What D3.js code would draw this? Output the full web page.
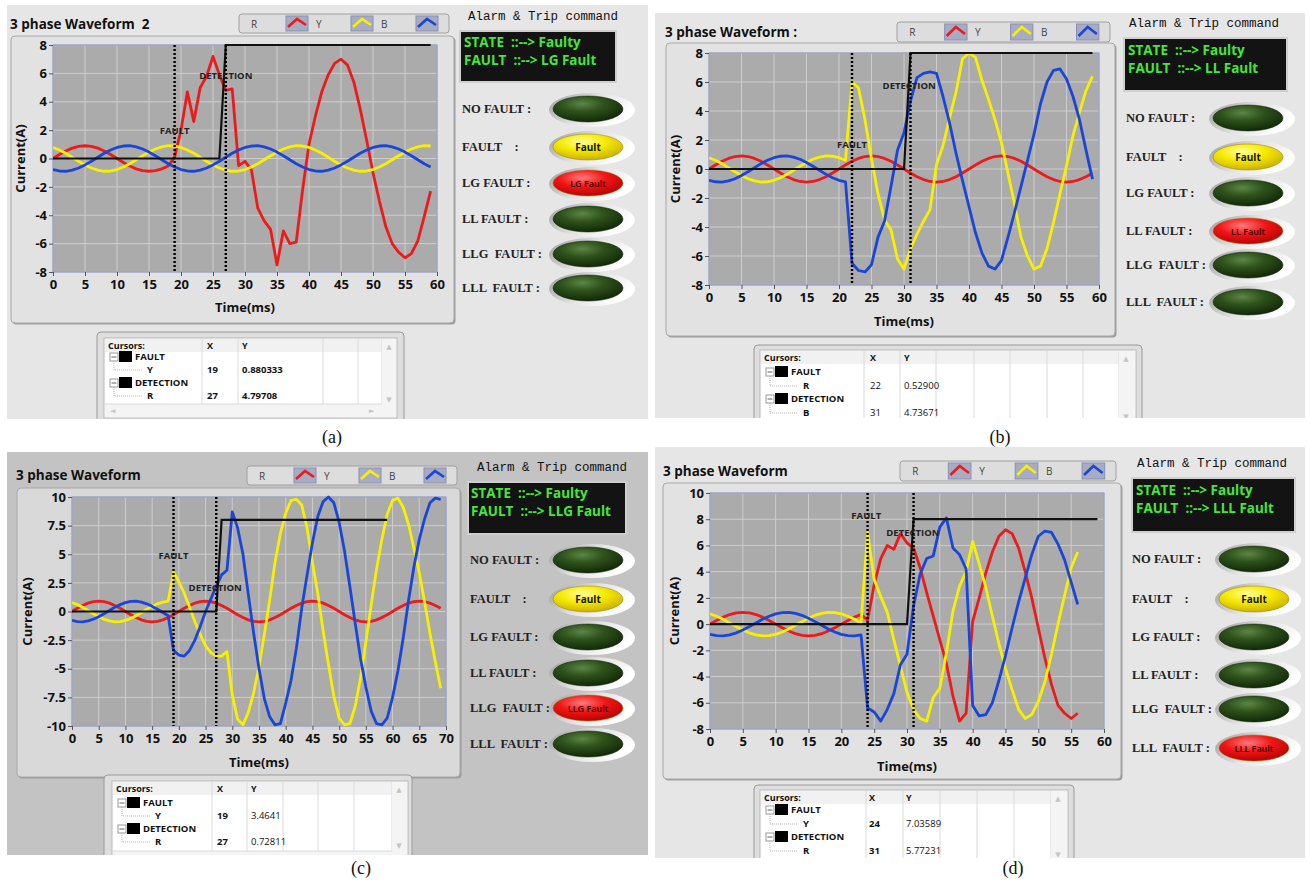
<!DOCTYPE html>
<html>
<head>
<meta charset="utf-8">
<title>3 phase waveform - fault detection</title>
<script src="https://cdn.jsdelivr.net/npm/d3@7/dist/d3.min.js"></script>
<style>
  body { margin: 0; background: #fff; }
  text { font-family: "Open Sans", "DejaVu Sans", sans-serif; }
</style>
</head>
<body>
<div id="figure"></div>
<script>
/* 3 phase waveform screenshots (a)-(d), one sample per ms */

const phaseNames = ["R", "Y", "B"];
const ledLabels = ["NO FAULT :", "FAULT    :", "LG FAULT :", "LL FAULT :", "LLG  FAULT :", "LLL  FAULT :"];

const xTicks60 = [0, 5, 10, 15, 20, 25, 30, 35, 40, 45, 50, 55, 60];
const xTicks70 = [0, 5, 10, 15, 20, 25, 30, 35, 40, 45, 50, 55, 60, 65, 70];
const yTicks8 = [-8, -6, -4, -2, 0, 2, 4, 6, 8];
const yTicks10 = [-10, -7.5, -5, -2.5, 0, 2.5, 5, 7.5, 10];
const yTicksD = [-8, -6, -4, -2, 0, 2, 4, 6, 8, 10];

// (a) LG fault
const redA = [0, 0.28, 0.53, 0.73, 0.86, 0.9, 0.86, 0.73, 0.53, 0.28, 0, -0.28, -0.53, -0.73, -0.86, -0.9, -0.86, -0.73, -0.53,
    0.1, 2.0, 4.7, 2.6, 5.0, 5.8, 7.2, 5.9, 4.8, 4.9, -0.5,
    -0.2, -0.8, -3.5, -4.4, -5.0, -7.5, -5.1, -6.0, -5.9, -2.2,
    1.0, 3.0, 4.7, 5.9, 6.7, 7.0, 6.6, 5.4, 3.5, 1.3,
    -1.0, -3.0, -4.8, -6.0, -6.6, -7.0, -6.7, -5.8, -4.1, -2.3];
const yellowA = [0.78, 0.6, 0.37, 0.09, -0.19, -0.45, -0.67, -0.82, -0.9, -0.88, -0.78, -0.6, -0.37, -0.09, 0.19, 0.45, 0.67, 0.82, 0.9, 0.88,
    0.78, 0.6, 0.37, 0.09, -0.19, -0.45, -0.67, -0.82, -0.9, -0.88, -0.78, -0.6, -0.37, -0.09, 0.19, 0.45, 0.67, 0.82, 0.9, 0.88,
    0.78, 0.6, 0.37, 0.09, -0.19, -0.45, -0.67, -0.82, -0.9, -0.88, -0.78, -0.6, -0.37, -0.09, 0.19, 0.45, 0.67, 0.82, 0.9, 0.88];
const blueA = [-0.78, -0.88, -0.9, -0.82, -0.67, -0.45, -0.19, 0.09, 0.37, 0.6, 0.78, 0.88, 0.9, 0.82, 0.67, 0.45, 0.19, -0.09, -0.37, -0.6,
    -0.78, -0.88, -0.9, -0.82, -0.67, -0.45, -0.19, 0.09, 0.37, 0.6, 0.78, 0.88, 0.9, 0.82, 0.67, 0.45, 0.19, -0.09, -0.37, -0.6,
    -0.78, -0.88, -0.9, -0.82, -0.67, -0.45, -0.19, 0.09, 0.37, 0.6, 0.78, 0.88, 0.9, 0.82, 0.67, 0.45, 0.19, -0.09, -0.37, -0.6];
const tripA = [0, 0, 0, 0, 0, 0, 0, 0, 0, 0, 0, 0, 0, 0, 0, 0, 0, 0, 0, 0, 0, 0, 0, 0, 0, 0, 0,
    8, 8, 8, 8, 8, 8, 8, 8, 8, 8, 8, 8, 8, 8, 8, 8, 8, 8, 8, 8, 8, 8, 8, 8, 8, 8, 8, 8, 8, 8, 8, 8, 8];
const cursorsA = [["FAULT", "Y", 19, "0.880333"], ["DETECTION", "R", 27, "4.79708"]];

// (b) LL fault
const redB = [0, 0.28, 0.53, 0.73, 0.86, 0.9, 0.86, 0.73, 0.53, 0.28, 0, -0.28, -0.53, -0.73, -0.86, -0.9, -0.86, -0.73, -0.53, -0.28,
    0, 0.28, 0.53, 0.73, 0.86, 0.9, 0.86, 0.73, 0.53, 0.28, 0, -0.28, -0.53, -0.73, -0.86, -0.9, -0.86, -0.73, -0.53, -0.28,
    0, 0.28, 0.53, 0.73, 0.86, 0.9, 0.86, 0.73, 0.53, 0.28, 0, -0.28, -0.53, -0.73, -0.86, -0.9, -0.86, -0.73, -0.53, -0.28];
const yellowB = [0.78, 0.6, 0.37, 0.09, -0.19, -0.45, -0.67, -0.82, -0.9, -0.88, -0.78, -0.6, -0.37, -0.09, 0.19, 0.45, 0.67, 0.82, 0.9, 0.88,
    0.78, 0.6,
    6.0, 5.6, 3.4, 0.7, -1.7, -3.5, -4.2, -6.2, -6.9, -5.5, -4.5, -3.6, -2.8, 0.3, 1.6, 3.5, 5.3, 7.6, 8.0,
    7.7, 6.1, 4.8, 3.4, 1.8, -0.3, -2.4, -4.7, -6.0, -6.9, -6.7, -5.5, -3.7, -1.7, 0.2, 2.3, 3.9, 5.4, 6.4];
const blueB = [-0.78, -0.88, -0.9, -0.82, -0.67, -0.45, -0.19, 0.09, 0.37, 0.6, 0.78, 0.88, 0.9, 0.82, 0.67, 0.45, 0.19, -0.09, -0.37, -0.6,
    -0.78, -0.88,
    -6.5, -7.0, -7.1, -6.6, -4.7, -3.6, -1.2, 1.3, 2.5, 4.7, 6.3, 6.6, 6.7, 6.6, 5.0, 3.2, 1.1, -0.8, -2.6,
    -4.4, -5.8, -6.7, -6.9, -6.3, -4.7, -3.0, -1.2, 0.6, 2.4, 4.5, 6.0, 6.8, 6.9, 6.2, 5.0, 3.4, 1.3, -0.7];
const tripB = [0, 0, 0, 0, 0, 0, 0, 0, 0, 0, 0, 0, 0, 0, 0, 0, 0, 0, 0, 0, 0, 0, 0, 0, 0, 0, 0, 0, 0, 0, 0,
    8, 8, 8, 8, 8, 8, 8, 8, 8, 8, 8, 8, 8, 8, 8, 8, 8, 8, 8, 8, 8, 8, 8, 8, 8, 8, 8, 8, 8];
const cursorsB = [["FAULT", "R", 22, "0.52900"], ["DETECTION", "B", 31, "4.73671"]];

// (c) LLG fault
const redC = [0, 0.28, 0.53, 0.73, 0.86, 0.9, 0.86, 0.73, 0.53, 0.28, 0, -0.28, -0.53, -0.73, -0.86, -0.9, -0.86, -0.73, -0.53, -0.28,
    0, 0.28, 0.53, 0.73, 0.86, 0.9, 0.86, 0.73, 0.53, 0.28, 0, -0.28, -0.53, -0.73, -0.86, -0.9, -0.86, -0.73, -0.53, -0.28,
    0, 0.28, 0.53, 0.73, 0.86, 0.9, 0.86, 0.73, 0.53, 0.28, 0, -0.28, -0.53, -0.73, -0.86, -0.9, -0.86, -0.73, -0.53, -0.28,
    0, 0.28, 0.53, 0.73, 0.86, 0.9, 0.86, 0.73, 0.53, 0.28];
const yellowC = [0.78, 0.6, 0.37, 0.09, -0.19, -0.45, -0.67, -0.82, -0.9, -0.88, -0.78, -0.6, -0.37, -0.09, 0.19, 0.45, 0.67, 0.82, 0.9,
    3.46, 2.6, 1.6, 0.4, -0.9, -2.0, -3.0, -3.6, -3.9, -3.9, -3.5,
    -7.3, -9.4, -9.9, -8.8, -7.1, -4.8, -2.0, 1.0, 4.3, 6.8,
    8.6, 9.7, 9.8, 9.3, 7.3, 4.3, 1.6, -1.7, -4.6, -7.4,
    -9.3, -9.9, -9.8, -8.3, -5.8, -2.7, 0.6, 3.7, 6.3, 8.5,
    9.7, 9.9, 9.1, 7.6, 5.5, 3.4, 0.8, -1.9, -4.4, -6.7];
const blueC = [-0.78, -0.88, -0.9, -0.82, -0.67, -0.45, -0.19, 0.09, 0.37, 0.6, 0.78, 0.88, 0.9, 0.82, 0.67, 0.45, 0.19, -0.09, -0.37,
    -3.4, -3.8, -3.9, -3.4, -2.5, -1.3, 0.0, 1.1, 2.2, 3.2, 3.6,
    8.7, 7.3, 5.0, 1.5, -1.9, -5.0, -7.6, -9.2, -9.9, -9.8,
    -8.0, -6.0, -3.2, 0.3, 3.2, 6.0, 8.3, 9.6, 10.0, 9.5,
    7.8, 5.3, 2.2, -1.0, -4.1, -6.6, -8.7, -9.8, -9.9, -9.3,
    -7.5, -5.2, -2.3, 1.0, 3.9, 6.3, 8.1, 9.5, 9.9, 9.8];
const tripC = [0, 0, 0, 0, 0, 0, 0, 0, 0, 0, 0, 0, 0, 0, 0, 0, 0, 0, 0, 0, 0, 0, 0, 0, 0, 0, 0, 0,
    8, 8, 8, 8, 8, 8, 8, 8, 8, 8, 8, 8, 8, 8, 8, 8, 8, 8, 8, 8, 8, 8, 8, 8, 8, 8, 8, 8, 8, 8, 8, 8];
const cursorsC = [["FAULT", "Y", 19, "3.4641"], ["DETECTION", "R", 27, "0.72811"]];

// (d) LLL fault
const redD = [0, 0.28, 0.53, 0.73, 0.86, 0.9, 0.86, 0.73, 0.53, 0.28, 0, -0.28, -0.53, -0.73, -0.86, -0.9, -0.86, -0.73, -0.53, -0.28,
    0, 0.28, 0.53, 0.73,
    0.3, 3.0, 5.0, 6.0, 5.7, 6.9, 6.2, 5.8, 4.3, 2.4, 0.6, -1.2, -3.0, -5.5, -7.4, -6.8,
    0.2, 2.0, 3.9, 5.5, 6.7, 7.2, 6.9, 5.8, 4.0, 2.0, -0.3, -2.6, -4.6, -6.2, -6.8, -7.2, -6.8];
const yellowD = [0.78, 0.6, 0.37, 0.09, -0.19, -0.45, -0.67, -0.82, -0.9, -0.88, -0.78, -0.6, -0.37, -0.09, 0.19, 0.45, 0.67, 0.82, 0.9, 0.88,
    0.78, 0.6, 0.37, 0.09,
    7.0, 3.4, 2.1, 0.9, -1.2, -3.2, -5.2, -6.5, -7.2, -7.4, -5.6, -4.9, -2.2, 1.0, 2.9, 4.0,
    6.3, 4.6, 2.8, 0.6, -1.5, -3.4, -5.0, -6.5, -7.2, -6.9, -5.9, -4.4, -2.3, 0.0, 2.2, 4.3, 5.5];
const blueD = [-0.78, -0.88, -0.9, -0.82, -0.67, -0.45, -0.19, 0.09, 0.37, 0.6, 0.78, 0.88, 0.9, 0.82, 0.67, 0.45, 0.19, -0.09, -0.37, -0.6,
    -0.78, -0.88, -0.9, -0.82,
    -6.4, -6.7, -7.4, -6.5, -5.3, -3.1, -2.3, 1.4, 3.8, 5.0, 5.2, 7.4, 8.1, 5.8, 5.3, 4.2,
    -6.2, -7.0, -6.9, -6.0, -4.3, -2.4, -0.3, 1.7, 3.5, 5.3, 6.7, 7.1, 7.0, 6.1, 4.9, 3.2, 1.5];
const tripD = [0, 0, 0, 0, 0, 0, 0, 0, 0, 0, 0, 0, 0, 0, 0, 0, 0, 0, 0, 0, 0, 0, 0, 0, 0, 0, 0, 0, 0, 0, 0,
    8, 8, 8, 8, 8, 8, 8, 8, 8, 8, 8, 8, 8, 8, 8, 8, 8, 8, 8, 8, 8, 8, 8, 8, 8, 8, 8, 8, 8];
const cursorsD = [["FAULT", "Y", 24, "7.03589"], ["DETECTION", "R", 31, "5.77231"]];

const phaseColors = { R: "#ec1b1b", Y: "#f7f000", B: "#1a46d8" };

// ---- layout of each screenshot ----
const panels = [
    {
        id: "a", bg: [7, 5, 641, 414], bgFill: "#e6e6e6", title: [10, 29], titleText: "3 phase Waveform  2",
        legend: [239, 14, 210, 19], frame: [11, 36, 443, 287], frameFill: "#e2e2e2", plot: [53, 45, 384, 227],
        xDomain: [0, 60], xTicks: xTicks60, yDomain: [-8, 8], yTicks: yTicks8,
        series: [redA, yellowA, blueA], trip: tripA, cursors: cursorsA, cursorLabels: [[19, 2.0], [27, 5.9]],
        xLabelY: 312, yLabelX: 22,
        alarmTitle: [468, 20], alarmBox: [460, 31, 156, 51], stateX: 464, stateY: [47, 65],
        ledLabelX: 462, ledCx: 588, ledRows: [109, 147, 183, 219, 254, 288], faultType: "LG Fault", active: 2,
        table: { x: 97, y: 332, w: 307, h: 95, ix: 104, iy: 338, iw: 293, ih: 80, cols: [202, 238, 323, 358],
            scrollX: 382, xCol: 207, yCol: 242, rows: [360, 373, 386, 399], hscroll: 404, boldX: true, boldY: true },
        caption: [332, 443], captionText: "(a)"
    },
    {
        id: "b", bg: [655, 13, 650, 405], bgFill: "#e6e6e6", title: [665, 37], titleText: "3 phase Waveform :",
        legend: [897, 22, 213, 20], frame: [666, 43, 449, 293], frameFill: "#e2e2e2", plot: [709, 53, 390, 232],
        xDomain: [0, 60], xTicks: xTicks60, yDomain: [-8, 8], yTicks: yTicks8,
        series: [redB, yellowB, blueB], trip: tripB, cursors: cursorsB, cursorLabels: [[22, 1.7], [30.8, 5.8]],
        xLabelY: 326, yLabelX: 677,
        alarmTitle: [1129, 27], alarmBox: [1124, 38, 163, 53], stateX: 1128, stateY: [55, 73],
        ledLabelX: 1126, ledCx: 1248, ledRows: [118, 157, 193, 231, 265, 302], faultType: "LL Fault", active: 3,
        table: { x: 754, y: 345, w: 388, h: 80, ix: 760, iy: 350, iw: 376, ih: 75, cols: [864, 900, 936, 974, 1010, 1047, 1083],
            scrollX: 1119, xCol: 870, yCol: 904, rows: [375, 389, 402, 416], hscroll: null, boldX: false, boldY: false },
        caption: [1000, 443], captionText: "(b)"
    },
    {
        id: "c", bg: [7, 452, 641, 403], bgFill: "#c3c3c3", title: [16, 480], titleText: "3 phase Waveform",
        legend: [247, 466, 210, 19], frame: [17, 488, 443, 289], frameFill: "#d9d9d9", plot: [72, 497, 374, 229],
        xDomain: [0, 70], xTicks: xTicks70, yDomain: [-10, 10], yTicks: yTicks10,
        series: [redC, yellowC, blueC], trip: tripC, cursors: cursorsC, cursorLabels: [[19, 4.9], [26.8, 2.1]],
        xLabelY: 767, yLabelX: 29,
        alarmTitle: [477, 471], alarmBox: [468, 482, 158, 52], stateX: 471, stateY: [498, 516],
        ledLabelX: 470, ledCx: 588, ledRows: [560, 599, 637, 673, 708, 744], faultType: "LLG Fault", active: 4,
        table: { x: 104, y: 775, w: 308, h: 85, ix: 112, iy: 781, iw: 296, ih: 80, cols: [212, 247, 283, 318, 354],
            scrollX: 392, xCol: 217, yCol: 251, rows: [806, 819, 832, 845], hscroll: 851, boldX: true, boldY: false },
        caption: [361, 874], captionText: "(c)"
    },
    {
        id: "d", bg: [655, 447, 650, 411], bgFill: "#e6e6e6", title: [663, 476], titleText: "3 phase Waveform",
        legend: [900, 461, 216, 20], frame: [663, 483, 458, 296], frameFill: "#e2e2e2", plot: [710, 493, 394, 236],
        xDomain: [0, 60], xTicks: xTicks60, yDomain: [-8, 10], yTicks: yTicksD,
        series: [redD, yellowD, blueD], trip: tripD, cursors: cursorsD, cursorLabels: [[23.8, 8.3], [30.9, 7.0]],
        xLabelY: 771, yLabelX: 676,
        alarmTitle: [1137, 467], alarmBox: [1132, 478, 163, 54], stateX: 1136, stateY: [495, 513],
        ledLabelX: 1132, ledCx: 1254, ledRows: [559, 599, 637, 675, 709, 748], faultType: "LLL Fault", active: 5,
        table: { x: 754, y: 785, w: 320, h: 80, ix: 760, iy: 790, iw: 308, ih: 75, cols: [866, 903, 940, 977, 1014],
            scrollX: 1051, xCol: 869, yCol: 906, rows: [813, 827, 840, 854], hscroll: null, boldX: true, boldY: false },
        caption: [1013, 874], captionText: "(d)"
    }
];

const width = 1310, height = 883;

let svg = d3.select("#figure")
    .append("svg")
    .attr("width", width)
    .attr("height", height)
    .attr("viewBox", [0, 0, width, height]);

svg.append("rect").attr("width", width).attr("height", height).attr("fill", "#fff");

let defs = svg.append("defs");

function radial(id, stops) {
    let grad = defs.append("radialGradient").attr("id", id)
        .attr("cx", "42%").attr("cy", "30%").attr("r", "75%");
    stops.forEach(s => grad.append("stop").attr("offset", s[0]).attr("stop-color", s[1]));
}
radial("led-off", [[0, "#5c8646"], [0.4, "#2f531c"], [1, "#0e2405"]]);
radial("led-yellow", [[0, "#ffff9a"], [0.45, "#f6e900"], [1, "#c4ab00"]]);
radial("led-red", [[0, "#ff7a7a"], [0.45, "#f01616"], [1, "#b00000"]]);

let bezel = defs.append("linearGradient").attr("id", "bezel")
    .attr("x1", 0).attr("y1", 0).attr("x2", 1).attr("y2", 0.4);
bezel.append("stop").attr("offset", 0).attr("stop-color", "#9c9c9c");
bezel.append("stop").attr("offset", 0.55).attr("stop-color", "#e4e4e4");
bezel.append("stop").attr("offset", 1).attr("stop-color", "#ffffff");

function drawLegend(g, box) {
    let [lx, ly, lw, lh] = box;
    let k = lw / 210;
    g.append("rect")
        .attr("x", lx).attr("y", ly).attr("width", lw).attr("height", lh).attr("rx", 3)
        .attr("fill", "#dddddd").attr("stroke", "#a0a0a0");
    phaseNames.forEach((name, i) => {
        let ox = lx + i * 65 * k;
        g.append("text")
            .attr("x", ox + 12 * k).attr("y", ly + lh / 2 + 4)
            .attr("font-size", 10).attr("fill", "#444")
            .text(name);
        let sx = ox + 47 * k, sw = 22 * k;
        g.append("rect")
            .attr("x", sx).attr("y", ly + 2).attr("width", sw).attr("height", lh - 4)
            .attr("fill", "#a8acc2").attr("stroke", "#8990b8");
        g.append("polyline")
            .attr("points", [[sx + 2, ly + lh - 6], [sx + sw * 0.5, ly + 5], [sx + sw - 2, ly + lh - 8]].join(" "))
            .attr("fill", "none")
            .attr("stroke", phaseColors[name])
            .attr("stroke-width", 2.6);
    });
}

function drawAlarm(g, p) {
    g.append("text")
        .attr("x", p.alarmTitle[0]).attr("y", p.alarmTitle[1])
        .style("font-family", "'Liberation Mono', 'DejaVu Sans Mono', monospace")
        .attr("font-size", 12.5).attr("fill", "#111")
        .text("Alarm & Trip command");
    let [bx, by, bw, bh] = p.alarmBox;
    g.append("rect")
        .attr("x", bx).attr("y", by).attr("width", bw).attr("height", bh)
        .attr("fill", "#131313").attr("stroke", "#cfcfcf").attr("stroke-width", 2);
    ["STATE  ::--> Faulty", "FAULT  ::--> " + p.faultType].forEach((t, i) => {
        g.append("text")
            .attr("x", p.stateX).attr("y", p.stateY[i])
            .attr("font-size", 13.5).attr("font-weight", 700).attr("fill", "#46e63c")
            .style("white-space", "pre")
            .text(t);
    });

    ledLabels.forEach((label, i) => {
        let cy = p.ledRows[i];
        g.append("text")
            .attr("x", p.ledLabelX).attr("y", cy + 4)
            .style("font-family", "'Liberation Serif', 'DejaVu Serif', serif")
            .attr("font-weight", 700).attr("font-size", 12.5)
            .attr("fill", "#222")
            .style("white-space", "pre")
            .text(label);
        g.append("ellipse")
            .attr("cx", p.ledCx + 4).attr("cy", cy + 1).attr("rx", 43).attr("ry", 17)
            .attr("fill", "url(#bezel)");
        let state = i === 1 ? "yellow" : (i === p.active ? "red" : "off");
        g.append("ellipse")
            .attr("cx", p.ledCx).attr("cy", cy).attr("rx", 35).attr("ry", 13)
            .attr("fill", `url(#led-${state})`)
            .attr("stroke", state === "off" ? "#0b1c04" : "#9a7a00")
            .attr("stroke-opacity", 0.5);
        if (state !== "off") {
            g.append("text")
                .attr("x", p.ledCx).attr("y", cy + 4)
                .attr("text-anchor", "middle")
                .attr("font-size", state === "yellow" ? 10 : 9)
                .attr("font-weight", state === "yellow" ? 700 : 600)
                .attr("fill", state === "yellow" ? "#111" : "#3a0000")
                .text(state === "yellow" ? "Fault" : p.faultType);
        }
    });
}

function drawTable(g, t, cursors) {
    g.append("rect")
        .attr("x", t.x).attr("y", t.y).attr("width", t.w).attr("height", t.h).attr("rx", 4)
        .attr("fill", "#dedede").attr("stroke", "#9a9a9a");
    g.append("rect")
        .attr("x", t.ix).attr("y", t.iy).attr("width", t.iw).attr("height", t.ih)
        .attr("fill", "#fff").attr("stroke", "#b8b8b8");
    g.append("rect")
        .attr("x", t.ix + 1).attr("y", t.iy + 1).attr("width", t.scrollX - t.ix - 1).attr("height", 13)
        .attr("fill", "#f1f1f1");
    t.cols.concat([t.scrollX]).forEach(cx => {
        g.append("line")
            .attr("x1", cx).attr("x2", cx).attr("y1", t.iy).attr("y2", t.iy + t.ih)
            .attr("stroke", "#dadada");
    });
    // scrollbars
    g.append("rect")
        .attr("x", t.scrollX).attr("y", t.iy + 1).attr("width", t.ix + t.iw - t.scrollX - 1).attr("height", t.ih - 2)
        .attr("fill", "#f4f4f4");
    g.append("text").attr("x", t.scrollX + 7).attr("y", t.iy + 11).attr("text-anchor", "middle")
        .attr("font-size", 7).attr("fill", "#c4c4c4").text("▲");
    g.append("text").attr("x", t.scrollX + 7).attr("y", t.rows[3] + 3).attr("text-anchor", "middle")
        .attr("font-size", 7).attr("fill", "#c4c4c4").text("▼");
    if (t.hscroll) {
        g.append("rect")
            .attr("x", t.ix + 1).attr("y", t.hscroll).attr("width", t.scrollX - t.ix - 1).attr("height", 13)
            .attr("fill", "#f4f4f4");
        g.append("line").attr("x1", t.ix).attr("x2", t.scrollX).attr("y1", t.hscroll).attr("y2", t.hscroll)
            .attr("stroke", "#dadada");
        g.append("text").attr("x", t.ix + 6).attr("y", t.hscroll + 9).attr("font-size", 7).attr("fill", "#c4c4c4").text("◄");
        g.append("text").attr("x", t.scrollX - 13).attr("y", t.hscroll + 9).attr("font-size", 7).attr("fill", "#c4c4c4").text("►");
    }

    // header
    g.append("text").attr("x", t.ix + 4).attr("y", t.iy + 11)
        .attr("font-size", 9).attr("font-weight", 700).attr("fill", "#111").text("Cursors:");
    g.append("text").attr("x", t.xCol).attr("y", t.iy + 11)
        .attr("font-size", 9).attr("font-weight", 700).attr("fill", "#111").text("X");
    g.append("text").attr("x", t.yCol).attr("y", t.iy + 11)
        .attr("font-size", 9).attr("font-weight", 700).attr("fill", "#111").text("Y");

    cursors.forEach((c, i) => {
        let py = t.rows[i * 2], cy = t.rows[i * 2 + 1];
        // tree connectors
        g.append("path")
            .attr("d", `M${t.ix + 10},${py + 1} V${cy - 3} H${t.ix + 38}`)
            .attr("fill", "none").attr("stroke", "#b5b5b5").attr("stroke-dasharray", "1,1");
        g.append("rect")
            .attr("x", t.ix + 6).attr("y", py - 7).attr("width", 8).attr("height", 8)
            .attr("fill", "#fff").attr("stroke", "#9a9a9a");
        g.append("line")
            .attr("x1", t.ix + 7.5).attr("x2", t.ix + 12.5).attr("y1", py - 3).attr("y2", py - 3)
            .attr("stroke", "#666");
        g.append("rect")
            .attr("x", t.ix + 15).attr("y", py - 9).attr("width", 13).attr("height", 11)
            .attr("fill", "#000");
        g.append("text").attr("x", t.ix + 31).attr("y", py)
            .attr("font-size", 9.5).attr("font-weight", 700).attr("fill", "#111").text(c[0]);
        g.append("text").attr("x", t.ix + 43).attr("y", cy)
            .attr("font-size", 9.5).attr("font-weight", 700).attr("fill", "#111").text(c[1]);
        g.append("text").attr("x", t.xCol).attr("y", cy)
            .attr("font-size", 9.5).attr("font-weight", t.boldX ? 700 : 400).attr("fill", "#111").text(c[2]);
        g.append("text").attr("x", t.yCol).attr("y", cy)
            .attr("font-size", 9.5).attr("font-weight", t.boldY ? 700 : 400).attr("fill", "#111").text(c[3]);
    });
}

function drawPanel(p) {
    let [bx, by, bw, bh] = p.bg;
    defs.append("clipPath").attr("id", "panel-" + p.id)
        .append("rect").attr("x", bx).attr("y", by).attr("width", bw).attr("height", bh);

    let g = svg.append("g").attr("clip-path", `url(#panel-${p.id})`);

    g.append("rect")
        .attr("x", bx).attr("y", by).attr("width", bw).attr("height", bh)
        .attr("fill", p.bgFill);

    g.append("text")
        .attr("x", p.title[0]).attr("y", p.title[1])
        .attr("font-size", 13.5).attr("font-weight", 700).attr("fill", "#111")
        .style("white-space", "pre")
        .text(p.titleText);

    drawLegend(g, p.legend);

    let [fx, fy, fw, fh] = p.frame;
    g.append("rect")
        .attr("x", fx + 1.5).attr("y", fy + 1.5).attr("width", fw).attr("height", fh).attr("rx", 4)
        .attr("fill", "#9b9b9b");
    g.append("rect")
        .attr("x", fx).attr("y", fy).attr("width", fw).attr("height", fh).attr("rx", 4)
        .attr("fill", p.frameFill).attr("stroke", "#a8a8a8");

    let [px, py, pw, ph] = p.plot;
    let x = d3.scaleLinear().domain(p.xDomain).range([px, px + pw]);
    let y = d3.scaleLinear().domain(p.yDomain).range([py + ph, py]);

    g.append("rect")
        .attr("x", px).attr("y", py).attr("width", pw).attr("height", ph)
        .attr("fill", "#ababab");

    // grid
    g.append("g")
        .selectAll("line")
        .data(p.xTicks)
        .join("line")
        .attr("x1", d => x(d)).attr("x2", d => x(d))
        .attr("y1", py).attr("y2", py + ph)
        .attr("stroke", "#cdcdcd");
    g.append("g")
        .selectAll("line")
        .data(p.yTicks)
        .join("line")
        .attr("x1", px).attr("x2", px + pw)
        .attr("y1", d => y(d)).attr("y2", d => y(d))
        .attr("stroke", "#cdcdcd");

    g.append("rect")
        .attr("x", px).attr("y", py).attr("width", pw).attr("height", ph)
        .attr("fill", "none").attr("stroke", "#8591c4");

    let styleAxis = ax => {
        ax.select(".domain").remove();
        ax.selectAll("line").attr("stroke", "#555");
        ax.selectAll("text")
            .attr("font-size", 13)
            .attr("font-weight", 700)
            .attr("fill", "#111");
    };

    g.append("g")
        .attr("transform", `translate(${px},0)`)
        .call(d3.axisLeft(y).tickValues(p.yTicks).tickSize(4).tickPadding(2).tickFormat(d => String(d)))
        .call(styleAxis);

    g.append("g")
        .attr("transform", `translate(0,${py + ph})`)
        .call(d3.axisBottom(x).tickValues(p.xTicks).tickSize(4).tickPadding(4).tickFormat(d => String(d)))
        .call(styleAxis);

    // traces
    defs.append("clipPath").attr("id", "plot-" + p.id)
        .append("rect").attr("x", px).attr("y", py - 2).attr("width", pw).attr("height", ph + 4);
    let traces = g.append("g").attr("clip-path", `url(#plot-${p.id})`);

    let line = d3.line()
        .x((d, i) => x(i))
        .y(d => y(d));

    p.series.forEach((values, i) => {
        traces.append("path")
            .datum(values)
            .attr("d", line)
            .attr("fill", "none")
            .attr("stroke", phaseColors[phaseNames[i]])
            .attr("stroke-width", 2.8)
            .attr("stroke-linejoin", "round");
    });

    traces.append("path")
        .datum(p.trip)
        .attr("d", line)
        .attr("fill", "none")
        .attr("stroke", "#111")
        .attr("stroke-width", 2.2);

    // cursors
    p.cursors.forEach((c, i) => {
        traces.append("line")
            .attr("x1", x(c[2])).attr("x2", x(c[2]))
            .attr("y1", py).attr("y2", py + ph)
            .attr("stroke", "#000")
            .attr("stroke-width", 2.4)
            .attr("stroke-dasharray", "2,2");
        g.append("text")
            .attr("x", x(p.cursorLabels[i][0])).attr("y", y(p.cursorLabels[i][1]) + 4)
            .attr("text-anchor", "middle")
            .attr("font-size", 9.5).attr("font-weight", 700).attr("fill", "#222")
            .text(c[0]);
    });

    g.append("text")
        .attr("x", px + pw / 2).attr("y", p.xLabelY)
        .attr("text-anchor", "middle")
        .attr("font-size", 13).attr("font-weight", 700).attr("fill", "#111")
        .text("Time(ms)");

    g.append("text")
        .attr("transform", `translate(${p.yLabelX},${py + ph / 2}) rotate(-90)`)
        .attr("text-anchor", "middle")
        .attr("dominant-baseline", "middle")
        .attr("font-size", 13).attr("font-weight", 700).attr("fill", "#111")
        .text("Current(A)");

    drawAlarm(g, p);
    drawTable(g, p.table, p.cursors);

    svg.append("text")
        .attr("x", p.caption[0]).attr("y", p.caption[1])
        .attr("text-anchor", "middle")
        .style("font-family", "'Liberation Serif', 'DejaVu Serif', serif")
        .attr("font-size", 18)
        .attr("fill", "#111")
        .text(p.captionText);
}

panels.forEach(drawPanel);
</script>
</body>
</html>
